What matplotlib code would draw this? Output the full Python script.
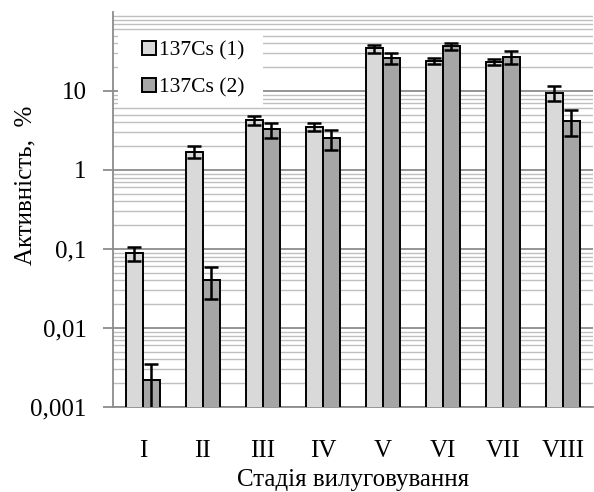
"""Activity of 137Cs by leaching stage (log scale bar chart with error bars)."""

import numpy as np
import matplotlib.pyplot as plt
from matplotlib.patches import Rectangle
from matplotlib.ticker import FixedLocator, LogLocator, NullFormatter

plt.rcParams['font.family'] = ['Liberation Serif', 'DejaVu Serif']

# Data
stages = ['I', 'II', 'III', 'IV', 'V', 'VI', 'VII', 'VIII']
cs1 = [0.088, 1.71, 4.3, 3.5, 34.5, 24.0, 23.3, 9.5]
cs1_err = [0.018, 0.3, 0.55, 0.43, 4.0, 2.0, 1.8, 2.1]
cs2 = [0.0022, 0.041, 3.27, 2.5, 26.0, 37.0, 27.0, 4.2]
cs2_err = [0.0013, 0.018, 0.7, 0.7, 4.0, 4.0, 5.0, 1.5]
yticks = [0.001, 0.01, 0.1, 1, 10]
ytick_labels = ['0,001', '0,01', '0,1', '1', '10']

fig = plt.figure(figsize=(5.94, 4.92), dpi=100)
ax = fig.add_axes([0.190, 0.1728, 0.808, 0.803])

x = np.arange(len(stages))
w = 0.28
err_kw = dict(ecolor='black', elinewidth=1.8, capsize=5, capthick=1.8)
ax.bar(x - w / 2, cs1, w, yerr=cs1_err, color='#d9d9d9', edgecolor='black',
       linewidth=1.4, label='137Cs (1)', error_kw=err_kw, zorder=3)
ax.bar(x + w / 2, cs2, w, yerr=cs2_err, color='#a6a6a6', edgecolor='black',
       linewidth=1.4, label='137Cs (2)', error_kw=err_kw, zorder=3)

ax.set_yscale('log')
ax.set_ylim(0.001, 100)
ax.set_xlim(-0.5, len(stages) - 0.5)
ax.yaxis.set_major_locator(FixedLocator(yticks))
ax.set_yticklabels(ytick_labels)
ax.yaxis.set_minor_locator(LogLocator(base=10, subs=np.arange(2, 10)))
ax.yaxis.set_minor_formatter(NullFormatter())

ax.grid(True, which='major', axis='y', color='#8c8c8c', linewidth=1.3, zorder=0)
ax.grid(True, which='minor', axis='y', color='#bfbfbf', linewidth=1.0, zorder=0)
ax.set_axisbelow(True)

ax.set_xticks(x)
ax.set_xticklabels(stages)
ax.tick_params(axis='x', length=0, pad=24, labelsize=18)
ax.tick_params(axis='y', which='major', length=7, color='#8c8c8c', width=1.3,
               pad=12, labelsize=18)
ax.tick_params(axis='y', which='minor', length=0)

for side in ['top', 'right']:
    ax.spines[side].set_visible(False)
for side in ['left', 'bottom']:
    ax.spines[side].set_color('#8c8c8c')
    ax.spines[side].set_linewidth(1.3)

ax.set_xlabel('Стадія вилуговування', fontsize=18, labelpad=5)
ax.set_ylabel('Активність,  %', fontsize=18)
ax.yaxis.set_label_coords(-0.16, 0.562)

# white box behind the legend
ax.add_patch(Rectangle((0.0104, 0.7646), 0.302, 0.182, transform=ax.transAxes,
                       facecolor='white', edgecolor='none', zorder=2))

leg = ax.legend(loc='upper left', bbox_to_anchor=(0.0604, 0.9266), borderaxespad=0,
                fontsize=15.5, frameon=False, handlelength=0.65, handleheight=0.65,
                handletextpad=0.15, labelspacing=0.8, borderpad=0)
for h in leg.legend_handles:
    h.set_linewidth(1.4)

fig.savefig('out.png', dpi=100)
